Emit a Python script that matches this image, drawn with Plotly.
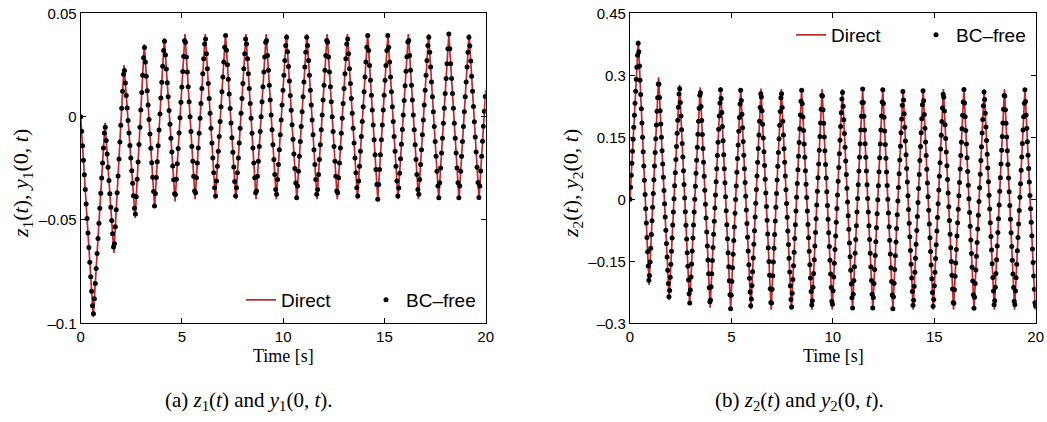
import numpy as np
import plotly.graph_objects as go

# ---------------- data ----------------
# z1(t): times [s] and values of the successive extrema of the red "Direct" curve
z1_ext_t = [0, 0.62, 1.20, 1.64, 2.14, 2.69, 3.14, 3.65, 4.13, 4.66,
            5.15, 5.65, 6.15, 6.65, 7.15, 7.66, 8.16, 8.66, 9.16, 9.66,
            10.16, 10.67, 11.17, 11.67, 12.17, 12.67, 13.17, 13.67, 14.17, 14.67,
            15.17, 15.67, 16.18, 16.68, 17.18, 17.68, 18.18, 18.68, 19.18, 19.67, 20.0]
z1_ext_v = [0.0, -0.097, -0.003, -0.066, 0.025, -0.049, 0.035, -0.044, 0.038, -0.041,
            0.040, -0.040, 0.040, -0.040, 0.040, -0.040, 0.040, -0.040, 0.040, -0.040,
            0.040, -0.040, 0.040, -0.040, 0.040, -0.040, 0.040, -0.040, 0.040, -0.040,
            0.040, -0.040, 0.040, -0.040, 0.040, -0.040, 0.040, -0.040, 0.040, -0.040, 0.013]

# z2(t): times [s] and values of the successive extrema
z2_ext_t = [0, 0.41, 0.94, 1.41, 1.93, 2.44, 2.94, 3.46, 3.95, 4.47,
            4.96, 5.46, 5.96, 6.46, 6.96, 7.46, 7.96, 8.46, 8.97, 9.47,
            9.97, 10.47, 10.97, 11.47, 11.97, 12.46, 12.96, 13.46, 13.96, 14.45,
            14.95, 15.45, 15.95, 16.46, 16.96, 17.46, 17.96, 18.46, 18.96, 19.47, 19.98, 20.0]
z2_ext_v = [0.0, 0.384, -0.207, 0.295, -0.244, 0.277, -0.256, 0.271, -0.262, 0.271,
            -0.265, 0.268, -0.266, 0.268, -0.267, 0.267, -0.268, 0.267, -0.267, 0.267,
            -0.267, 0.267, -0.267, 0.267, -0.267, 0.267, -0.267, 0.267, -0.267, 0.267,
            -0.267, 0.267, -0.267, 0.267, -0.267, 0.267, -0.267, 0.267, -0.267, 0.267, -0.267, -0.255]

# sampling step of the "BC-free" dots [s]
bc_dt_1 = 0.045
bc_dt_2 = 0.031

x_ticks = [0, 5, 10, 15, 20]
x_labels = ["0", "5", "10", "15", "20"]
y1_ticks = [0.05, 0, -0.05, -0.1]
y1_labels = ["0.05", "0", "\u20130.05", "\u20130.1"]
y2_ticks = [0.45, 0.3, 0.15, 0, -0.15, -0.3]
y2_labels = ["0.45", "0.3", "0.15", "0", "\u20130.15", "\u20130.3"]

series_names = ["Direct", "BC\u2013free"]
x_title = "Time [s]"
y1_title = "<i>z</i><sub>1</sub>(<i>t</i>), <i>y</i><sub>1</sub>(0, <i>t</i>)"
y2_title = "<i>z</i><sub>2</sub>(<i>t</i>), <i>y</i><sub>2</sub>(0, <i>t</i>)"
cap1 = "(a) <i>z</i><sub>1</sub>(<i>t</i>) and <i>y</i><sub>1</sub>(0, <i>t</i>)."
cap2 = "(b) <i>z</i><sub>2</sub>(<i>t</i>) and <i>y</i><sub>2</sub>(0, <i>t</i>)."

# ---------------- figure ----------------
W, H = 1047, 422
RED = "#c0282c"
SANS = "Liberation Sans, Arial, sans-serif"
SERIF = "Liberation Serif, Times New Roman, serif"

bc1_t = np.arange(0, 20 + 1e-9, bc_dt_1)
bc1_v = np.interp(bc1_t, z1_ext_t, z1_ext_v)
bc2_t = np.arange(0, 20 + 1e-9, bc_dt_2)
bc2_v = np.interp(bc2_t, z2_ext_t, z2_ext_v)

fig = go.Figure()
fig.add_trace(go.Scatter(x=z1_ext_t, y=z1_ext_v, mode="lines", name=series_names[0],
                         line=dict(color=RED, width=1.7), xaxis="x", yaxis="y", legend="legend"))
fig.add_trace(go.Scatter(x=bc1_t, y=bc1_v, mode="markers", name=series_names[1],
                         marker=dict(color="black", size=5), xaxis="x", yaxis="y", legend="legend"))
fig.add_trace(go.Scatter(x=z2_ext_t, y=z2_ext_v, mode="lines", name=series_names[0],
                         line=dict(color=RED, width=1.7), xaxis="x2", yaxis="y2", legend="legend2"))
fig.add_trace(go.Scatter(x=bc2_t, y=bc2_v, mode="markers", name=series_names[1],
                         marker=dict(color="black", size=5), xaxis="x2", yaxis="y2", legend="legend2"))

def px_x(p):
    return p / W

def px_y(p):
    return 1 - p / H

ytop, ybot = 13.3, 323.3
axis_common = dict(showline=True, linecolor="black", linewidth=1.2, mirror="ticks",
                   ticks="inside", ticklen=5, tickcolor="black", tickwidth=1,
                   showgrid=False, zeroline=False, automargin=False,
                   tickfont=dict(family=SANS, size=15, color="black"))

fig.update_layout(
    width=W, height=H,
    margin=dict(l=0, r=0, t=0, b=0, autoexpand=False),
    paper_bgcolor="white", plot_bgcolor="white",
    xaxis=dict(domain=[px_x(80.7), px_x(485.7)], range=[0, 20], anchor="y",
               tickvals=x_ticks, ticktext=x_labels, **axis_common),
    yaxis=dict(domain=[px_y(ybot), px_y(ytop)], range=[-0.1, 0.05], anchor="x",
               tickvals=y1_ticks, ticktext=y1_labels, **axis_common),
    xaxis2=dict(domain=[px_x(630.0), px_x(1035.7)], range=[0, 20], anchor="y2",
                tickvals=x_ticks, ticktext=x_labels, **axis_common),
    yaxis2=dict(domain=[px_y(ybot), px_y(ytop)], range=[-0.3, 0.45], anchor="x2",
                tickvals=y2_ticks, ticktext=y2_labels, **axis_common),
    legend=dict(orientation="h", x=px_x(241), y=px_y(300), xanchor="left", yanchor="middle",
                bgcolor="rgba(0,0,0,0)", font=dict(family=SANS, size=19, color="black"),
                entrywidth=80),
    legend2=dict(orientation="h", x=px_x(791), y=px_y(35), xanchor="left", yanchor="middle",
                 bgcolor="rgba(0,0,0,0)", font=dict(family=SANS, size=19, color="black"),
                 entrywidth=80),
)

annots = [
    dict(text=x_title, x=px_x(283), y=px_y(356), font=dict(family=SERIF, size=18, color="black")),
    dict(text=x_title, x=px_x(833), y=px_y(356), font=dict(family=SERIF, size=18, color="black")),
    dict(text=y1_title, x=px_x(22), y=px_y(184), textangle=-90,
         font=dict(family=SERIF, size=22, color="black")),
    dict(text=y2_title, x=px_x(572), y=px_y(184), textangle=-90,
         font=dict(family=SERIF, size=22, color="black")),
    dict(text=cap1, x=px_x(249), y=px_y(401), font=dict(family=SERIF, size=21, color="black")),
    dict(text=cap2, x=px_x(799), y=px_y(401), font=dict(family=SERIF, size=21, color="black")),
]
for a in annots:
    fig.add_annotation(xref="paper", yref="paper", showarrow=False,
                       xanchor="center", yanchor="middle", **a)

fig.write_html("out.html", config={"displayModeBar": False},
               post_script="document.body.style.margin='0px';document.body.style.padding='0px';")
